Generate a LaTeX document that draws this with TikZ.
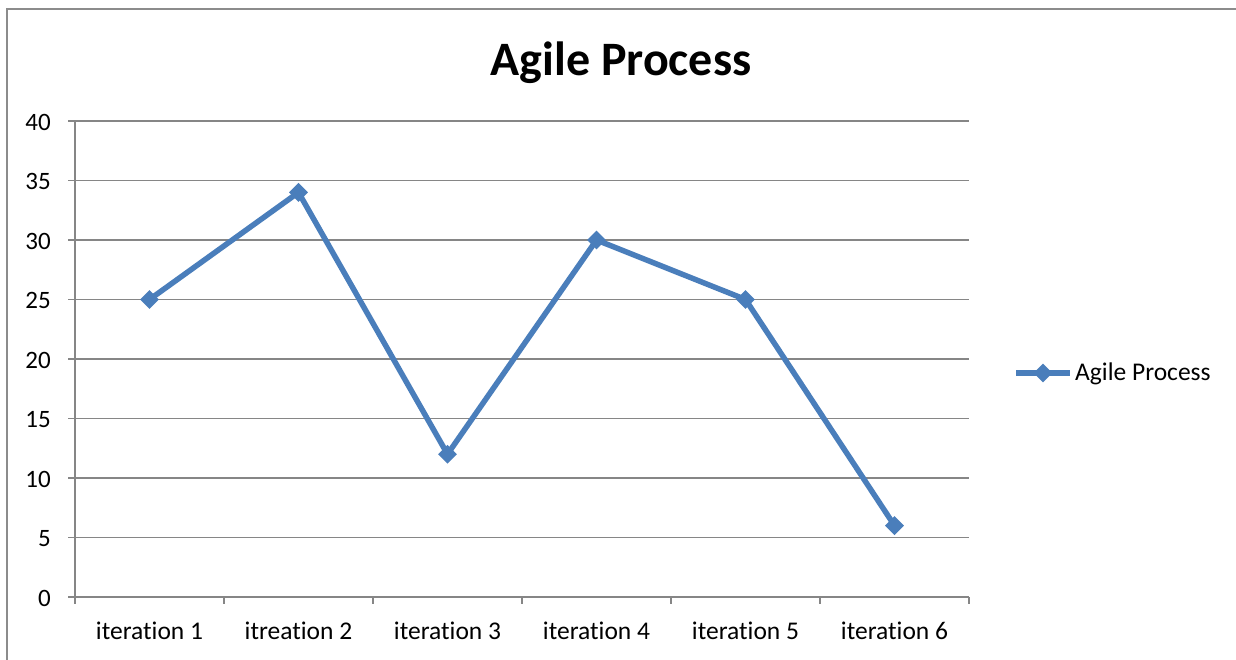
\documentclass[tikz,border=0pt]{standalone}
\usepackage{fontspec}
\setmainfont{Carlito}[Ligatures=NoCommon]
\usetikzlibrary{shapes.geometric}
\definecolor{series}{HTML}{4A7EBB}
\definecolor{gridc}{HTML}{868686}
\definecolor{framec}{HTML}{8C8C8C}
\tikzset{
  grid line/.style={draw=gridc, line width=1.9pt},
  series line/.style={draw=series, line width=5.5pt, line join=round},
  marker/.style={diamond, fill=series, inner sep=0pt, minimum width=19pt, minimum height=19pt},
  ylab/.style={anchor=east, font=\fontsize{25}{28}\selectfont, inner sep=0pt},
  xlab/.style={anchor=center, font=\fontsize{25.5}{28}\selectfont, inner sep=0pt},
}
\begin{document}
\begin{tikzpicture}[x=1pt, y=-1pt]
\useasboundingbox (0,0) rectangle (1236,660);
% outer frame
\draw[draw=framec, line width=2.4pt] (7,700) -- (7,9) -- (1280,9);
% title
\node[font=\bfseries\fontsize{48}{52}\selectfont] (title) at (621,63) {Agile Process};
% gridlines and y labels
\foreach \v in {1,...,8}{
  \draw[grid line] (68,597-\v*59.5) -- (969,597-\v*59.5);
}
\foreach \v/\lab in {0/0,1/5,2/10,3/15,4/20,5/25,6/30,7/35,8/40}{
  \node[ylab] (y\v) at (51,598-\v*59.5) {\lab};
}
% axes
\draw[grid line] (75,121) -- (75,604);
\draw[grid line] (68,597) -- (969,597);
\foreach \i in {1,...,6}{
  \draw[grid line] (75+\i*149,597) -- (75+\i*149,604);
}
% x labels
\foreach \i/\lab in {1/iteration 1,2/itreation 2,3/iteration 3,4/iteration 4,5/iteration 5,6/iteration 6}{
  \node[xlab] (x\i) at (75+\i*149-74.5,631) {\lab};
}
% data points
\coordinate (p1) at (149.5,597-25*11.9);
\coordinate (p2) at (298.5,597-34*11.9);
\coordinate (p3) at (447.5,597-12*11.9);
\coordinate (p4) at (596.5,597-30*11.9);
\coordinate (p5) at (745.5,597-25*11.9);
\coordinate (p6) at (894.5,597-6*11.9);
\draw[series line] (p1) -- (p2) -- (p3) -- (p4) -- (p5) -- (p6);
\foreach \i in {1,...,6}{
  \node[marker] (m\i) at (p\i) {};
}
% legend
\coordinate (l1) at (1016,373);
\coordinate (l2) at (1070,373);
\draw[series line] (l1) -- (l2);
\node[marker] (lm) at (1043,373) {};
\node[anchor=west, font=\fontsize{25.5}{28}\selectfont, inner sep=0pt] (legtext) at (1075,374) {Agile Process};
\end{tikzpicture}
\end{document}
